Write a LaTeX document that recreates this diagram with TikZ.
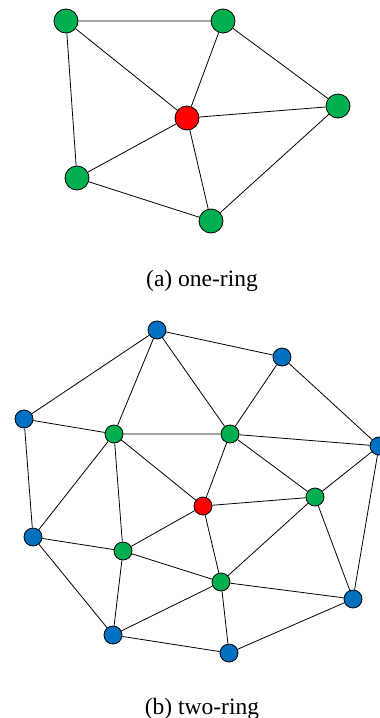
\documentclass[tikz,border=0pt]{standalone}
\usepackage{fontspec}
\setmainfont{Liberation Serif}
\definecolor{ringgreen}{HTML}{00B050}
\definecolor{centerred}{HTML}{FF0000}
\definecolor{outerblue}{HTML}{0070C0}
\begin{document}
\begin{tikzpicture}[x=1pt,y=-1pt,
  edge/.style={draw=black,line width=0.8pt},
  bigv/.style={circle,draw=black,line width=0.8pt,minimum size=24pt,inner sep=0pt},
  smallv/.style={circle,draw=black,line width=0.8pt,minimum size=18pt,inner sep=0pt},
  caption/.style={font=\fontsize{23.5}{26}\selectfont,anchor=base}]
\useasboundingbox (0,0) rectangle (380,718);

% (a) one-ring neighbourhood
\node[bigv,fill=ringgreen] (a1) at (66,21) {};
\node[bigv,fill=ringgreen] (a2) at (223,21) {};
\node[bigv,fill=ringgreen] (a3) at (338,106) {};
\node[bigv,fill=centerred] (ac) at (187,118) {};
\node[bigv,fill=ringgreen] (a4) at (77,178) {};
\node[bigv,fill=ringgreen] (a5) at (211,221) {};
\path[edge] (a1) -- (a2) (a1) -- (ac) (a1) -- (a4)
  (a2) -- (ac) (a2) -- (a3) (a3) -- (ac) (a3) -- (a5)
  (a4) -- (ac) (a4) -- (a5) (ac) -- (a5);
\node[caption] (capa) at (202,286) {(a) one-ring};

% (b) two-ring neighbourhood
\node[smallv,fill=outerblue] (b1) at (157,330) {};
\node[smallv,fill=outerblue] (b2) at (282,357) {};
\node[smallv,fill=outerblue] (b3) at (24,419) {};
\node[smallv,fill=outerblue] (b4) at (379,446) {};
\node[smallv,fill=ringgreen] (g1) at (114,434) {};
\node[smallv,fill=ringgreen] (g2) at (230,434) {};
\node[smallv,fill=ringgreen] (g3) at (315,497) {};
\node[smallv,fill=centerred] (bc) at (203,506) {};
\node[smallv,fill=outerblue] (b5) at (33,537) {};
\node[smallv,fill=ringgreen] (g4) at (123,551) {};
\node[smallv,fill=ringgreen] (g5) at (221,582) {};
\node[smallv,fill=outerblue] (b6) at (353,599) {};
\node[smallv,fill=outerblue] (b7) at (113,635) {};
\node[smallv,fill=outerblue] (b8) at (229,653) {};
\path[edge] (b1) -- (b2) (b1) -- (b3) (b1) -- (g1) (b1) -- (g2)
  (b2) -- (g2) (b2) -- (b4) (b3) -- (g1) (b3) -- (b5)
  (g1) -- (g2) (g1) -- (bc) (g1) -- (b5) (g1) -- (g4)
  (g2) -- (bc) (g2) -- (b4) (g2) -- (g3)
  (g3) -- (b4) (g3) -- (bc) (g3) -- (g5) (g3) -- (b6)
  (b4) -- (b6) (bc) -- (g4) (bc) -- (g5)
  (b5) -- (g4) (b5) -- (b7) (g4) -- (g5) (g4) -- (b7)
  (g5) -- (b7) (g5) -- (b8) (g5) -- (b6) (b7) -- (b8) (b8) -- (b6);
\node[caption] (capb) at (202,714) {(b) two-ring};
\end{tikzpicture}
\end{document}
